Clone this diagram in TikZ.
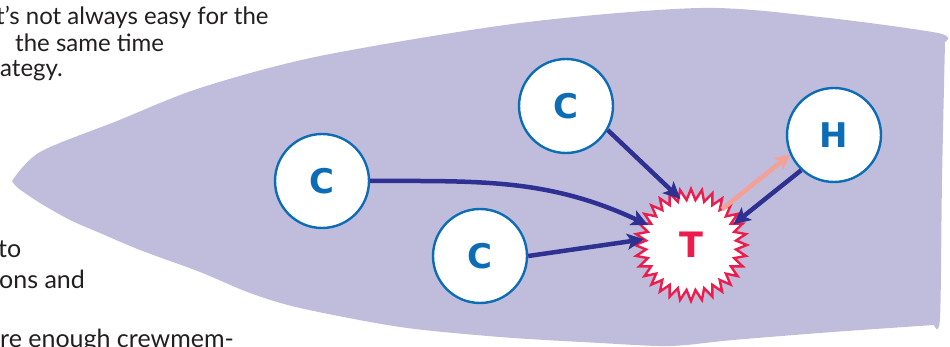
\documentclass[tikz,border=0pt]{standalone}
\usepackage{fontspec}
\setmainfont{Lato}
\newfontfamily\letterfont{DejaVu Sans}
\usetikzlibrary{shapes.geometric,arrows.meta}
\definecolor{hull}{RGB}{192,189,220}
\definecolor{nodeblue}{RGB}{12,108,181}
\definecolor{navy}{RGB}{46,49,146}
\definecolor{salmon}{RGB}{244,160,150}
\definecolor{burstred}{RGB}{236,28,76}
\definecolor{ink}{RGB}{35,31,32}
\begin{document}
\begin{tikzpicture}[x=1pt,y=-1pt,
  crew/.style={circle, draw=nodeblue, line width=2.4pt, fill=white, minimum size=94pt, inner sep=0pt,
    text=nodeblue, font=\letterfont\bfseries\fontsize{34}{34}\selectfont},
  burst/.style={star, star points=32, star point ratio=1.24, draw=burstred, line width=2.4pt, fill=white,
    minimum size=112pt, inner sep=0pt, text=burstred, font=\letterfont\bfseries\fontsize{35}{35}\selectfont},
  hub/.style={circle, minimum size=94pt, inner sep=0pt},
  arr/.style={draw=navy, line width=4.5pt, -{Stealth[length=17pt, width=16pt, inset=4pt]}},
  parr/.style={draw=salmon, line width=4.5pt, -{Stealth[length=15pt, width=15pt, inset=4pt]}},
  bodytxt/.style={anchor=base west, inner sep=0pt, text=ink, font=\fontsize{24}{26}\selectfont},
  bigtxt/.style={anchor=base west, inner sep=0pt, text=ink, font=\fontsize{25}{31}\selectfont}]
\useasboundingbox (0,0) rectangle (950,347);
% hull
\fill[hull] plot[smooth, tension=0.5] coordinates {(12,181) (40,152) (117,121) (200,88) (320,56) (520,23) (700,8) (820,17) (938,33) (945,42)}
  -- plot[smooth, tension=0.5] coordinates {(945,42) (942,180) (940,318) (934,325)}
  -- plot[smooth, tension=0.5] coordinates {(934,325) (833,332) (733,340) (670,346) (600,343) (500,337) (400,327) (300,308) (250,293) (200,272) (140,250) (100,233) (70,220) (40,203) (18,188) (12,181)}
  -- cycle;
% texts
\node[bodytxt] (l1) at (-4,25) {t’s not always easy for the};
\node[bodytxt] (l2) at (15,52) {the same time};
\node[bodytxt] (l3) at (0,77) {ategy.};
\node[bigtxt] (b1) at (-2,258) {to};
\node[bigtxt] (b2) at (-1,289) {ons and};
\node[bigtxt] (b3) at (0,347) {re enough crewmem-};
% nodes
\node[burst] (Tb) at (691,245) {T};
\node[hub] (T) at (691,245) {};
\node[crew] (C1) at (322,181) {C};
\node[crew] (C2) at (566,106) {C};
\node[crew] (C3) at (480,256) {C};
\node[crew] (H) at (834,135) {H};
% connectors
\draw[arr] (C1.east) to[out=0, in=155] (T);
\draw[arr] (C3.east) -- (T.173);
\draw[arr] (C2.-30) -- (T.103);
\draw[arr] (H.227) -- (T.26);
\draw[parr] (T.49) -- (H.204);
\end{tikzpicture}
\end{document}
